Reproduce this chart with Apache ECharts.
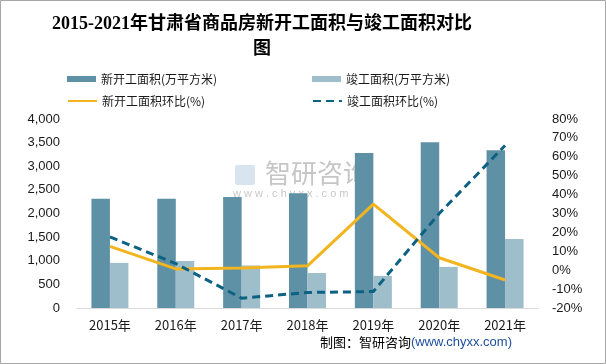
<!DOCTYPE html>
<html><head><meta charset="utf-8">
<script src="https://cdn.jsdelivr.net/npm/echarts@6/dist/echarts.min.js"></script>
<style>html,body{margin:0;padding:0;background:#fff}#c{width:606px;height:364px}</style>
</head><body><div id="c"></div>
<script>
var categories = ['2015年','2016年','2017年','2018年','2019年','2020年','2021年'];
var newStart = [2310, 2310, 2350, 2430, 3280, 3510, 3340];
var completed = [955, 995, 900, 740, 680, 870, 1460];
var newStartRate = [12.6, 0.7, 1.2, 2.3, 35, 6.6, -5.2];
var completedRate = [17.6, 3.5, -14.8, -11.8, -11.3, 30, 66];
var leftTicks = [0, 4000, 500];
var rightTicks = [-20, 80, 10];

var chart = echarts.init(document.getElementById('c'), null, {renderer:'canvas'});
var txt = '#1a1a1a';
var lgText = {fontSize:12, color:txt, fontFamily:'"Noto Sans CJK SC", sans-serif'};
var hideSym = {color:'rgba(0,0,0,0)', borderWidth:0};
chart.setOption({
  animation:false,
  legend:[
    {data:['新开工面积(万平方米)'], left:62, top:68, itemWidth:29, itemHeight:6, icon:'rect', itemGap:4, textStyle:lgText},
    {data:['竣工面积(万平方米)'], left:307, top:68, itemWidth:29, itemHeight:6, icon:'rect', textStyle:lgText},
    {data:['新开工面积环比(%)'], left:62, top:90, itemWidth:29, itemHeight:10, itemStyle:hideSym, textStyle:lgText},
    {data:['竣工面积环比(%)'], left:307, top:90, itemWidth:29, itemHeight:10, itemStyle:hideSym, textStyle:lgText}
  ],
  grid:{left:77, right:68, top:119, bottom:56},
  xAxis:{type:'category', data:categories,
    axisLine:{lineStyle:{color:'#d9d9d9', width:1}}, axisTick:{show:false},
    axisLabel:{fontSize:13, color:txt, margin:11, fontFamily:'"Noto Sans CJK SC", sans-serif'}},
  yAxis:[
    {type:'value', min:leftTicks[0], max:leftTicks[1], interval:leftTicks[2],
     splitLine:{show:false}, axisLine:{show:false}, axisTick:{show:false},
     axisLabel:{fontSize:13, color:txt, margin:17, fontFamily:'"Liberation Sans", sans-serif',
       formatter:function(v){return v.toLocaleString('en-US');}}},
    {type:'value', min:rightTicks[0], max:rightTicks[1], interval:rightTicks[2],
     splitLine:{show:false}, axisLine:{show:false}, axisTick:{show:false},
     axisLabel:{fontSize:13, color:txt, margin:14, fontFamily:'"Liberation Sans", sans-serif', formatter:'{value}%'}}
  ],
  series:[
    {name:'新开工面积(万平方米)', type:'bar', data:newStart, barWidth:18.5, barGap:'0%', itemStyle:{color:'#5e90a6'}},
    {name:'竣工面积(万平方米)', type:'bar', data:completed, barWidth:18.5, barGap:'0%', itemStyle:{color:'#9fbecb'}},
    {name:'新开工面积环比(%)', type:'line', yAxisIndex:1, data:newStartRate, symbol:'none',
     lineStyle:{color:'#f2b41f', width:3}, itemStyle:{color:'#f2b41f'}},
    {name:'竣工面积环比(%)', type:'line', yAxisIndex:1, data:completedRate, symbol:'none',
     lineStyle:{color:'#0d6182', width:3, type:[8,5]}, itemStyle:{color:'#0d6182'}}
  ],
  graphic:[
    {type:'rect', shape:{x:0.5, y:0.5, width:605, height:363}, style:{fill:null, stroke:'#a6a6a6', lineWidth:1}, z:-1},
    {type:'text', x:262, y:12, style:{text:'2015-2021年甘肃省商品房新开工面积与竣工面积对比\n图', align:'center', fontSize:18, fontWeight:'bold', fill:'#000', lineHeight:25, fontFamily:'"Liberation Serif", "Noto Sans CJK SC", serif'}},
    {type:'rect', z:-1, shape:{x:235, y:165, width:20, height:20, r:2}, style:{fill:'rgba(170,195,225,0.45)'}},
    {type:'text', left:265, top:160, z:-1, style:{text:'智研咨询', fontSize:26, fill:'rgba(160,160,160,0.6)', fontFamily:'"Noto Sans CJK SC", sans-serif'}},
    {type:'text', left:233, top:188, z:-1, style:{text:'w w w . c h y x x . c o m', fontSize:11, fill:'rgba(160,160,160,0.6)', fontFamily:'"Liberation Sans", sans-serif'}},
    {type:'text', right:94, top:336, style:{rich:{a:{fontSize:13, fill:'#000', fontFamily:'"Noto Sans CJK SC", sans-serif'}, b:{fontSize:13, fill:'#1f4fa0', fontFamily:'"Liberation Sans", sans-serif'}}, text:'{a|制图：智研咨询}{b|(www.chyxx.com)}'}}
  ]
});
</script></body></html>
